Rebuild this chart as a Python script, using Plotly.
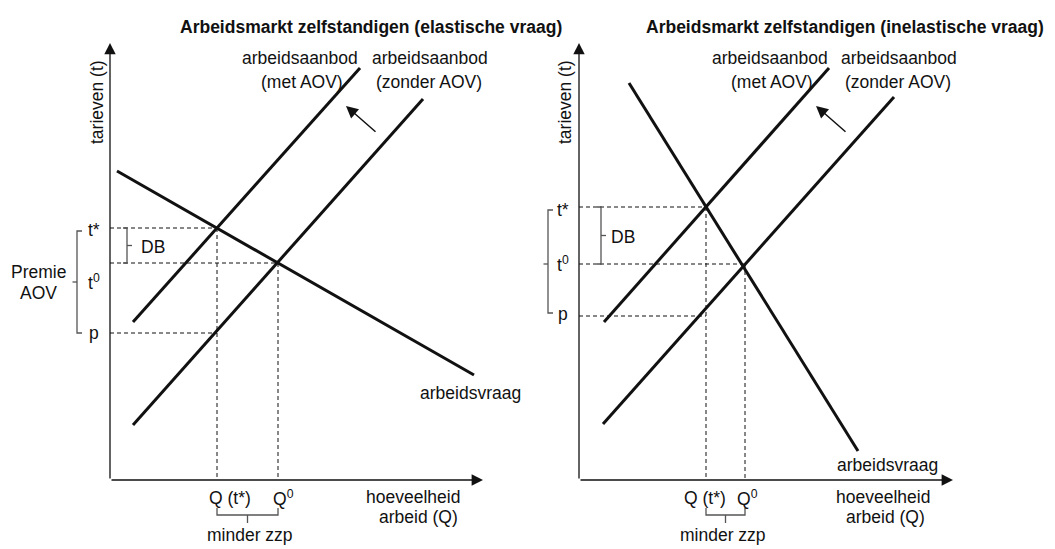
import plotly.graph_objects as go

# ---------------- data (model units: Q = quantity of labour, t = tariff) ----------------
# Left panel: elastic demand
L_aanbod_met_Q = [2.3, 25.0]
L_aanbod_met_t = [15.8, 41.2]
L_aanbod_zonder_Q = [2.3, 31.3]
L_aanbod_zonder_t = [5.5, 38.1]
L_vraag_Q = [0.7, 36.4]
L_vraag_t = [30.9, 10.5]
L_prices = [25.2, 21.7, 14.7]      # t*, t0, p
L_quantities = [10.7, 16.8]        # Q(t*), Q0

# Right panel: inelastic demand
R_aanbod_met_Q = [2.5, 25.0]
R_aanbod_met_t = [15.8, 41.2]
R_aanbod_zonder_Q = [2.4, 31.5]
R_aanbod_zonder_t = [5.6, 38.3]
R_vraag_Q = [5.0, 27.9]
R_vraag_t = [39.7, 2.9]
R_prices = [27.3, 21.6, 16.4]      # t*, t0, p
R_quantities = [12.7, 16.6]        # Q(t*), Q0

titles = ["Arbeidsmarkt zelfstandigen (elastische vraag)",
          "Arbeidsmarkt zelfstandigen (inelastische vraag)"]
price_labels = ["t*", "t<sup>0</sup>", "p"]
quantity_labels = ["Q (t*)", "Q<sup>0</sup>"]

Q_MAX = [37.3, 37.4]
T_MAX = 43.7

FONT = "Liberation Sans, Arial, sans-serif"
FS = 17.5
INK = "#111111"
GRAY = "#555555"

fig = go.Figure()
annotations = []


def text(xr, yr, x, y, s, size=FS, bold=False, angle=0, xanchor="center"):
    annotations.append(dict(
        xref=xr, yref=yr, x=x, y=y, text=("<b>%s</b>" % s) if bold else s,
        showarrow=False, xanchor=xanchor, yanchor="middle", textangle=angle,
        font=dict(family=FONT, size=size, color=INK)))


def arrow(xr, yr, x, y, ax, ay, width=1.3, size=1.75):
    annotations.append(dict(
        xref=xr, yref=yr, axref=xr, ayref=yr, x=x, y=y, ax=ax, ay=ay,
        text="", showarrow=True, arrowhead=2, arrowsize=size,
        arrowwidth=width, arrowcolor=INK, standoff=0, startstandoff=0))


def line(xa, ya, xs, ys, width=3, color=INK, dash=None):
    fig.add_trace(go.Scatter(
        x=xs, y=ys, xaxis=xa, yaxis=ya, mode="lines", hoverinfo="skip",
        showlegend=False, cliponaxis=False,
        line=dict(color=color, width=width, dash=dash)))


def panel(idx, met_Q, met_t, zon_Q, zon_t, vr_Q, vr_t, prices, quants, lay):
    xa = "x" if idx == 0 else "x2"
    ya = "y" if idx == 0 else "y2"
    t_star, t0, p = prices
    q_star, q0 = quants

    # axes with arrow heads
    arrow(xa, ya, 0, T_MAX, 0, 0)
    arrow(xa, ya, Q_MAX[idx], 0, 0, 0)

    # dashed guide lines
    dash = "4px,3px"
    line(xa, ya, [0, q_star], [t_star, t_star], 1, INK, dash)
    line(xa, ya, [0, q0], [t0, t0], 1, INK, dash)
    line(xa, ya, [0, q_star], [p, p], 1, INK, dash)
    line(xa, ya, [q_star, q_star], [t_star, 0], 1, INK, dash)
    line(xa, ya, [q0, q0], [t0, 0], 1, INK, dash)

    # curves
    line(xa, ya, met_Q, met_t)
    line(xa, ya, zon_Q, zon_t)
    line(xa, ya, vr_Q, vr_t)

    # shift arrow
    s = lay["shift"]
    arrow(xa, ya, s[0], s[1], s[2], s[3], width=1.5, size=1.6)

    # brackets
    bx = lay["premie_x"]
    b_top, b_bot, b_mid = lay["premie_t"]
    line(xa, ya, [bx + 0.5, bx, bx, bx + 0.5, None, bx, bx - 0.45],
         [b_top, b_top, b_bot, b_bot, None, b_mid, b_mid], 1.3, GRAY)
    dx = lay["db_x"]
    line(xa, ya, [dx - 0.4, dx, dx, dx - 0.4, None, dx, dx + 0.5],
         [t_star, t_star, t0, t0, None, (t_star + t0) / 2, (t_star + t0) / 2], 1.3, GRAY)
    qb = lay["qbr_t"]
    line(xa, ya, [q_star, q_star, q0, q0, None, (q_star + q0) / 2, (q_star + q0) / 2],
         [qb + 0.7, qb, qb, qb + 0.7, None, qb, qb - 0.8], 1.3, GRAY)

    # texts
    text(xa, ya, lay["title"][0], lay["title"][1], titles[idx], size=FS, bold=True)
    text(xa, ya, lay["ytitle"][0], lay["ytitle"][1], "tarieven (t)", angle=-90)
    text(xa, ya, lay["met"][0], 42.2, "arbeidsaanbod")
    text(xa, ya, lay["met"][1], 39.8, "(met AOV)")
    text(xa, ya, lay["zonder"][0], 42.2, "arbeidsaanbod")
    text(xa, ya, lay["zonder"][1], 39.8, "(zonder AOV)")
    text(xa, ya, lay["vraag"][0], lay["vraag"][1], "arbeidsvraag")
    text(xa, ya, lay["hoev"][0], -1.7, "hoeveelheid")
    text(xa, ya, lay["hoev"][1], -3.7, "arbeid (Q)")
    text(xa, ya, lay["qlab"][0], -1.8, quantity_labels[0])
    text(xa, ya, lay["qlab"][1], -1.8, quantity_labels[1])
    text(xa, ya, lay["minder"], -5.5, "minder zzp")
    for lab, ty in zip(price_labels, lay["plab_t"]):
        text(xa, ya, -1.6, ty, lab)
    text(xa, ya, lay["premie"][0], lay["premie"][1], "Premie")
    text(xa, ya, lay["premie"][0], lay["premie"][2], "AOV")
    text(xa, ya, lay["db"][0], lay["db"][1], "DB")


panel(0, L_aanbod_met_Q, L_aanbod_met_t, L_aanbod_zonder_Q, L_aanbod_zonder_t,
      L_vraag_Q, L_vraag_t, L_prices, L_quantities,
      dict(shift=(23.6, 37.4, 26.7, 34.7), premie_x=-3.3, premie_t=(24.9, 14.7, 19.8),
           db_x=1.7, qbr_t=-3.5, title=(26.1, 45.3), ytitle=(-1.3, 37.8),
           met=(19.0, 19.2), zonder=(32.0, 31.9), vraag=(36.0, 8.7), hoev=(30.3, 30.8),
           qlab=(12.0, 17.3), minder=14.0, plab_t=(25.0, 19.8, 14.7),
           premie=(-7.2, 20.8, 18.7), db=(4.3, 23.3)))

panel(1, R_aanbod_met_Q, R_aanbod_met_t, R_aanbod_zonder_Q, R_aanbod_zonder_t,
      R_vraag_Q, R_vraag_t, R_prices, R_quantities,
      dict(shift=(23.7, 37.4, 26.8, 34.7), premie_x=-3.1, premie_t=(27.0, 16.7, 21.6),
           db_x=2.2, qbr_t=-3.5, title=(26.6, 45.3), ytitle=(-1.4, 37.8),
           met=(19.1, 19.3), zonder=(32.0, 31.9), vraag=(30.8, 1.5), hoev=(30.4, 30.6),
           qlab=(12.6, 16.8), minder=14.4, plab_t=(27.0, 21.6, 16.6),
           premie=(-7.0, 22.8, 20.8), db=(4.4, 24.3)))

W, H = 1055, 549
split = 527 / W
hidden = dict(visible=False, showgrid=False, zeroline=False, fixedrange=True)
fig.update_layout(
    width=W, height=H, autosize=False,
    margin=dict(l=0, r=0, t=0, b=0, pad=0),
    paper_bgcolor="white", plot_bgcolor="white",
    xaxis=dict(domain=[0, split], range=[-11.0, 41.7], **hidden),
    yaxis=dict(domain=[0, 1], range=[-6.9, 48.0], **hidden),
    xaxis2=dict(domain=[split, 1], range=[-5.2, 47.6], anchor="y2", **hidden),
    yaxis2=dict(domain=[0, 1], range=[-6.9, 48.0], anchor="x2", **hidden),
    annotations=annotations,
    showlegend=False,
)

fig.write_html("out.html", config={"displayModeBar": False},
               post_script="document.body.style.margin='0';document.body.style.overflow='hidden';")
